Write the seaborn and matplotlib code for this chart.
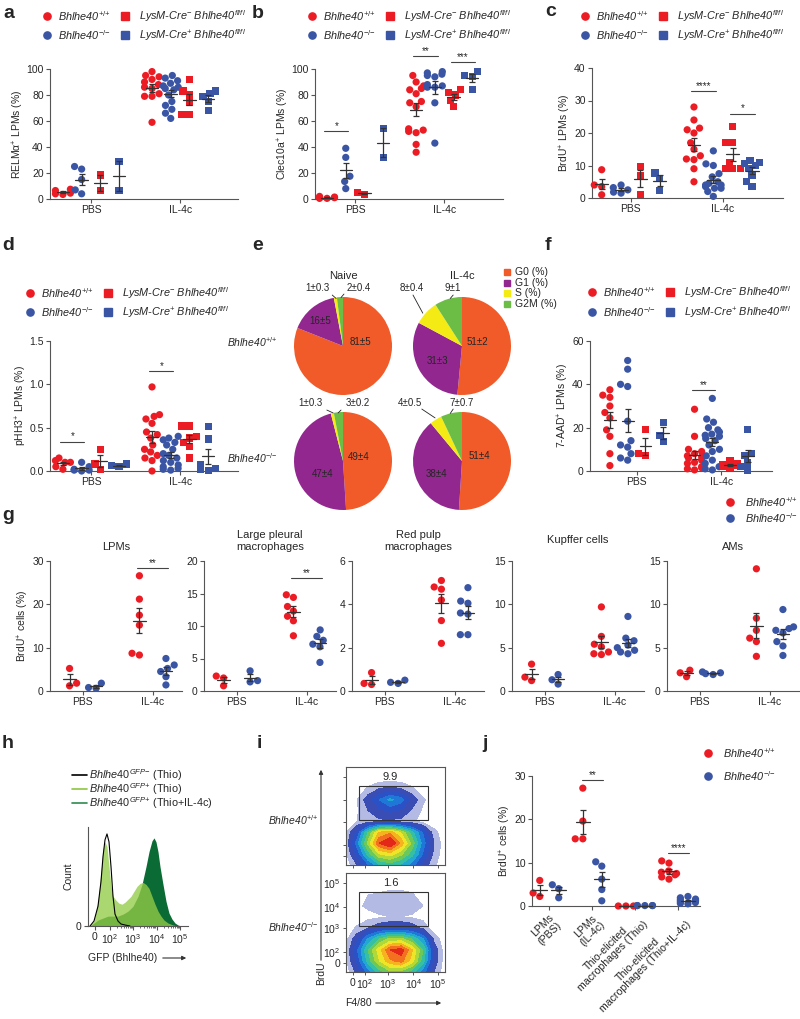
import warnings
import numpy as np
import pandas as pd
import matplotlib
matplotlib.use("Agg")
import matplotlib.pyplot as plt
from matplotlib.lines import Line2D
from matplotlib.patches import Rectangle, FancyArrowPatch
import seaborn as sns

warnings.filterwarnings("ignore")

sns.set_style("ticks")
plt.rcParams["font.family"] = ["Liberation Sans", "DejaVu Sans"]
plt.rcParams["mathtext.fontset"] = "custom"
plt.rcParams["mathtext.rm"] = "Liberation Sans"
plt.rcParams["mathtext.it"] = "Liberation Sans:italic"
plt.rcParams["mathtext.bf"] = "Liberation Sans:bold"
plt.rcParams["mathtext.sf"] = "Liberation Sans"
plt.rcParams["mathtext.default"] = "it"

RED = "#ec1c24"
BLUE = "#3a55a4"
EB = "#333333"
AX = "#555555"

# ---------------- data ----------------
groups = ["PBS", "IL-4c"]
lab_wt = "Bhlhe40$^{{+}/{+}}$"
lab_ko = "Bhlhe40$^{{-}/{-}}$"
lab_cneg = "LysM-Cre$^{-}$ Bhlhe40$^{fl/fl}$"
lab_cpos = "LysM-Cre$^{+}$ Bhlhe40$^{fl/fl}$"

# a: RELMa+ LPMs (%)
a_wt = [[6.5, 3.5, 4.5, 7.5, 4], [98, 95, 94, 92, 90, 88, 86, 85, 81, 79, 79, 59]]
a_ko = [[23, 25, 15, 7, 4], [95, 93, 91, 89, 87, 86, 85, 84, 80, 75, 72, 69, 66, 62]]
a_cneg = [[18.5, 6.5], [92, 83, 80, 74, 65, 65]]
a_cpos = [[29, 6.5], [83, 81, 79, 75, 68]]
# b: Clec10a+ LPMs (%)
b_wt = [[1, 0.5, 2, 1.5, 0.5, 1], [95, 90, 87, 85, 84, 81, 75, 74, 71, 54, 53, 52, 51, 42, 36]]
b_ko = [[39, 32, 17.5, 13.5, 8], [98, 97, 96, 95, 94, 88, 87, 86, 86, 74, 43]]
b_cneg = [[3.5, 5], [84, 82, 80, 76, 71]]
b_cpos = [[54.5, 32], [98, 95, 94, 84]]
# c: BrdU+ LPMs (%)
c_wt = [[8.7, 4, 3.5, 1], [28, 24, 21.5, 21, 20, 17, 15, 13, 12, 11.8, 9, 5]]
c_ko = [[4, 3.2, 2.5, 1.8, 1.5], [14.5, 10.5, 10, 7.5, 6.5, 5, 4.5, 4, 3.5, 3, 2, 0.5, 4, 3]]
c_cneg = [[9.7, 7, 1], [22, 17, 17, 11, 9, 9, 9]]
c_cpos = [[7.7, 6, 2.3], [11.5, 11, 10.5, 10, 9, 7, 5, 3.5]]
# d: pHH3+ LPMs (%)
d_wt = [[0.15, 0.12, 0.1, 0.1, 0.05, 0.02],
        [0.97, 0.65, 0.63, 0.6, 0.55, 0.45, 0.42, 0.38, 0.3, 0.25, 0.22, 0.18, 0.15, 0.12, 0.0]]
d_ko = [[0.1, 0.05, 0.02, 0.01, 0.01, 0.0],
        [0.4, 0.38, 0.36, 0.33, 0.3, 0.25, 0.2, 0.18, 0.15, 0.12, 0.1, 0.07, 0.05, 0.03, 0.02, 0.01]]
d_cneg = [[0.25, 0.08, 0.02], [0.52, 0.52, 0.4, 0.38, 0.33, 0.28, 0.15]]
d_cpos = [[0.08, 0.06, 0.05], [0.51, 0.37, 0.07, 0.03, 0.02, 0.01]]
# f: 7-AAD+ LPMs (%)
f_wt = [[37.5, 35, 34, 30, 27, 24.5, 19, 16, 8, 2.5],
        [28.5, 16, 10, 9, 8, 7, 6.5, 6, 5, 4, 3.5, 2, 1.5, 1, 0.5]]
f_ko = [[51, 47, 40, 39, 23, 14, 12, 11, 8, 6, 5],
        [33.5, 24, 22.5, 20, 19, 18, 17, 16.5, 16, 15, 14, 12, 10, 9, 7, 5, 3.5, 2, 1, 0.5]]
f_cneg = [[19, 8, 7], [5, 3.5, 3, 2.5, 2, 1.5]]
f_cpos = [[22.5, 16.5, 13.5], [19, 8, 7, 4, 2, 0.5]]

# e: cell cycle pies
phases = ["G0 (%)", "G1 (%)", "S (%)", "G2M (%)"]
phase_colors = ["#f15a29", "#92278f", "#f4eb14", "#6cbd45"]
pie_naive_wt = [81, 16, 1, 2]
pie_il4c_wt = [51, 31, 8, 9]
pie_naive_ko = [49, 47, 1, 3]
pie_il4c_ko = [51, 38, 4, 7]
lab_naive_wt = ["81±5", "16±5", "1±0.3", "2±0.4"]
lab_il4c_wt = ["51±2", "31±3", "8±0.4", "9±1"]
lab_naive_ko = ["49±4", "47±4", "1±0.3", "3±0.2"]
lab_il4c_ko = ["51±4", "38±4", "4±0.5", "7±0.7"]

# g: BrdU+ cells (%) per tissue
g_titles = ["LPMs", "Large pleural\nmacrophages", "Red pulp\nmacrophages", "Kupffer cells", "AMs"]
g_wt = [
    [[5.2, 1.8, 1.2], [26.6, 21.2, 17.5, 15.2, 8.7, 8.3]],
    [[2.3, 2.0, 0.8], [14.8, 14.4, 13.0, 12.3, 11.5, 10.8, 8.5]],
    [[0.85, 0.3, 0.35], [5.1, 4.8, 4.7, 4.2, 3.25, 2.2]],
    [[3.1, 1.6, 1.2], [9.7, 6.3, 5.4, 5.1, 4.5, 4.3, 4.2]],
    [[2.4, 2.1, 1.65], [14.1, 8.4, 7.0, 6.1, 5.7, 4.0]],
]
g_ko = [
    [[1.8, 0.8, 0.6], [7.5, 6.0, 5.2, 4.5, 3.3, 1.4]],
    [[3.1, 1.6, 1.4], [9.4, 8.4, 7.8, 7.2, 6.8, 4.4]],
    [[0.5, 0.4, 0.35], [4.77, 4.15, 4.05, 3.6, 3.55, 2.6, 2.6]],
    [[1.9, 1.3, 0.8], [8.6, 6.1, 5.8, 5.3, 5.0, 4.7, 4.5, 4.3]],
    [[2.2, 2.1, 1.9, 2.0], [9.4, 7.4, 7.2, 6.7, 5.7, 5.2, 4.1, 7.0]],
]
g_ymax = [30, 20, 6, 15, 15]
g_yticks = [[0, 10, 20, 30], [0, 5, 10, 15, 20], [0, 2, 4, 6], [0, 5, 10, 15], [0, 5, 10, 15]]

# h: GFP histograms (display channel 0-100, normalised count)
h_neg_x = [2, 6, 10, 13, 15, 17, 19, 21, 23, 25, 27, 30, 33, 37, 42]
h_neg_y = [0, 0.05, 0.2, 0.45, 0.7, 0.87, 0.93, 0.85, 0.6, 0.3, 0.12, 0.05, 0.02, 0.01, 0]
h_thio_x = [2, 6, 10, 13, 15, 17, 19, 21, 23, 25, 28, 31, 34, 37, 40, 43, 46, 49, 52, 55,
            58, 61, 64, 67, 70, 73, 76, 80, 85, 90]
h_thio_y = [0, 0.05, 0.25, 0.55, 0.78, 0.85, 0.8, 0.6, 0.4, 0.3, 0.26, 0.23, 0.22, 0.24, 0.27,
            0.3, 0.35, 0.4, 0.43, 0.44, 0.42, 0.38, 0.3, 0.22, 0.15, 0.1, 0.06, 0.03, 0.01, 0]
h_il4_x = [2, 6, 10, 15, 20, 25, 30, 35, 40, 45, 50, 54, 58, 61, 64, 66, 68, 70, 72, 75,
           78, 81, 84, 87, 90, 93]
h_il4_y = [0, 0.03, 0.06, 0.08, 0.1, 0.1, 0.1, 0.12, 0.15, 0.2, 0.3, 0.42, 0.6, 0.75, 0.86,
           0.89, 0.85, 0.75, 0.6, 0.42, 0.25, 0.13, 0.07, 0.03, 0.01, 0]

# i: BrdU vs F4/80 density (10x10 grid, bottom row first)
i_wt = [
    [0, 0.1, 0.25, 0.4, 0.45, 0.4, 0.3, 0.15, 0.05, 0],
    [0.03, 0.2, 0.45, 0.65, 0.7, 0.6, 0.45, 0.25, 0.08, 0],
    [0.05, 0.3, 0.6, 0.9, 1.0, 0.8, 0.55, 0.3, 0.1, 0],
    [0.03, 0.2, 0.5, 0.75, 0.8, 0.65, 0.45, 0.25, 0.06, 0],
    [0, 0.04, 0.07, 0.08, 0.08, 0.07, 0.05, 0.02, 0, 0],
    [0, 0.03, 0.1, 0.16, 0.2, 0.17, 0.09, 0.03, 0, 0],
    [0, 0.04, 0.14, 0.26, 0.36, 0.3, 0.15, 0.05, 0, 0],
    [0, 0, 0.05, 0.1, 0.12, 0.1, 0.05, 0, 0, 0],
    [0, 0, 0, 0, 0, 0, 0, 0, 0, 0],
    [0, 0, 0, 0, 0, 0, 0, 0, 0, 0],
]
i_ko = [
    [0, 0.12, 0.3, 0.45, 0.55, 0.55, 0.45, 0.3, 0.1, 0],
    [0.03, 0.2, 0.45, 0.65, 0.8, 0.85, 0.7, 0.45, 0.15, 0],
    [0.03, 0.25, 0.5, 0.7, 0.9, 0.95, 0.75, 0.5, 0.15, 0],
    [0.02, 0.15, 0.35, 0.5, 0.6, 0.6, 0.5, 0.35, 0.08, 0],
    [0, 0.05, 0.1, 0.15, 0.18, 0.18, 0.15, 0.08, 0, 0],
    [0, 0, 0.02, 0.03, 0.04, 0.04, 0.03, 0.02, 0, 0],
    [0, 0.03, 0.05, 0.07, 0.08, 0.08, 0.07, 0.04, 0, 0],
    [0, 0, 0.04, 0.05, 0.07, 0.07, 0.05, 0, 0, 0],
    [0, 0, 0, 0, 0, 0, 0, 0, 0, 0],
    [0, 0, 0, 0, 0, 0, 0, 0, 0, 0],
]
i_gate_pct = ["9.9", "1.6"]

# j: BrdU+ cells (%)
j_groups = ["LPMs\n(PBS)", "LPMs\n(IL-4c)", "Thio-elicited\nmacrophages (Thio)",
            "Thio-elicited\nmacrophages (Thio+IL-4c)"]
j_wt = [[5.9, 3.0, 2.2], [27.2, 19.6, 15.5, 15.5], [0, 0, 0],
        [10.4, 9.9, 8.1, 7.8, 7.5, 7.2, 6.7, 6.2]]
j_ko = [[4.9, 4.0, 1.9], [10.2, 9.2, 6.2, 3.8, 1.2], [0.1, 0.1, 0.1, 0.1, 0.1],
        [2.2, 1.9, 1.6, 1.4, 1.2, 1.0, 0.8, 0.6, 0.5]]

# ---------------- figure ----------------
W, H = 800, 1019
fig = plt.figure(figsize=(W / 100, H / 100), dpi=100)


def box(x0, y0, x1, y1):
    return fig.add_axes([x0 / W, 1 - y1 / H, (x1 - x0) / W, (y1 - y0) / H])


def ftext(x, y, s, **kw):
    return fig.text(x / W, 1 - y / H, s, **kw)


def fmark(x, y, marker, color, size=5.2):
    fig.add_artist(Line2D([x / W], [1 - y / H], marker=marker, color=color, markersize=size,
                          linestyle="none", transform=fig.transFigure))


def farrow(x0, y0, x1, y1):
    fig.add_artist(FancyArrowPatch((x0 / W, 1 - y0 / H), (x1 / W, 1 - y1 / H),
                                   transform=fig.transFigure, arrowstyle="-|>",
                                   mutation_scale=6, lw=0.8, color="#333333"))


def dot_panel(ax, series, names, offsets, markers, colors, hw, size=5.2):
    rows = []
    for k, vals in enumerate(series):
        for gi, gv in enumerate(vals):
            for v in gv:
                rows.append({"x": gi + offsets[k], "v": v, "g": names[k], "m": markers[k]})
    df = pd.DataFrame(rows)
    pal = dict(zip(names, colors))
    for m in dict.fromkeys(markers):
        sub = df[df.m == m]
        sns.swarmplot(data=sub, x="x", y="v", hue="g", palette=pal, native_scale=True,
                      orient="x", marker=m, size=size, linewidth=0, legend=False, ax=ax,
                      clip_on=False, zorder=3)
    for k, vals in enumerate(series):
        for gi, gv in enumerate(vals):
            arr = np.asarray(gv, float)
            mu = arr.mean()
            se = arr.std(ddof=1) / np.sqrt(len(arr)) if len(arr) > 1 else 0
            x = gi + offsets[k]
            ax.plot([x - hw, x + hw], [mu, mu], color=EB, lw=0.9, zorder=6, clip_on=False)
            ax.errorbar(x, mu, yerr=se, fmt="none", ecolor=EB, elinewidth=0.9, capsize=2.0,
                        capthick=0.9, zorder=6, clip_on=False)


def style(ax, xlim, ylim, yticks, ylabel="", xticks=(0, 1), xlabels=groups, fmt="{:g}",
          xsize=7.5):
    ax.set_xlim(xlim)
    ax.set_ylim(ylim)
    ax.set_yticks(yticks)
    ax.set_yticklabels([fmt.format(t) for t in yticks])
    ax.set_xticks(list(xticks))
    ax.set_xticklabels(xlabels, fontsize=xsize)
    sns.despine(ax=ax)
    for s in ["left", "bottom"]:
        ax.spines[s].set_color(AX)
        ax.spines[s].set_linewidth(0.8)
    ax.tick_params(length=3, width=0.8, color=AX, pad=1.5)
    ax.tick_params(axis="y", labelsize=7.5)
    ax.set_xlabel("")
    ax.set_ylabel(ylabel, fontsize=7.5, labelpad=0.5)


def sig(ax, x0, x1, y, stars):
    ax.plot([x0 - 0.03, x1 + 0.03], [y, y], color="#444444", lw=0.8, clip_on=False)
    ax.text((x0 + x1) / 2, y, stars, ha="center", va="bottom", fontsize=7, clip_on=False)


def legend4(xc, xs, y1, y2):
    fmark(xc, y1, "o", RED)
    fmark(xc, y2, "o", BLUE)
    fmark(xs, y1, "s", RED)
    fmark(xs, y2, "s", BLUE)
    ftext(xc + 11, y1, lab_wt, ha="left", va="center", style="italic", fontsize=7.8)
    ftext(xc + 11, y2, lab_ko, ha="left", va="center", style="italic", fontsize=7.8)
    ftext(xs + 14, y1, lab_cneg, ha="left", va="center", style="italic", fontsize=7.8)
    ftext(xs + 14, y2, lab_cpos, ha="left", va="center", style="italic", fontsize=7.8)


off4 = [-0.315, -0.105, 0.105, 0.315]
mk4 = ["o", "o", "s", "s"]
col4 = [RED, BLUE, RED, BLUE]
nm4 = ["wt", "ko", "cneg", "cpos"]

# panel a
ax = box(50, 69, 238, 199)
dot_panel(ax, [a_wt, a_ko, a_cneg, a_cpos], nm4, off4, mk4, col4, hw=0.07)
style(ax, (-0.46, 1.65), (0, 100), [0, 20, 40, 60, 80, 100], "RELMα$^{\\mathrm{+}}$ LPMs (%)")
legend4(47, 125, 16, 35)

# panel b
ax = box(315, 69, 503, 199)
dot_panel(ax, [b_wt, b_ko, b_cneg, b_cpos], nm4, off4, mk4, col4, hw=0.07)
style(ax, (-0.45, 1.66), (0, 100), [0, 20, 40, 60, 80, 100], "Clec10a$^{\\mathrm{+}}$ LPMs (%)")
sig(ax, off4[0], off4[1], 52, "*")
sig(ax, 1 + off4[0], 1 + off4[1], 110, "**")
sig(ax, 1 + off4[2], 1 + off4[3], 105.5, "***")
legend4(312, 390, 16, 35)

# panel c
ax = box(592, 68, 783, 198)
dot_panel(ax, [c_wt, c_ko, c_cneg, c_cpos], nm4, off4, mk4, col4, hw=0.07)
style(ax, (-0.42, 1.65), (0, 40), [0, 10, 20, 30, 40], "BrdU$^{\\mathrm{+}}$ LPMs (%)")
sig(ax, 1 + off4[0], 1 + off4[1], 32.8, "****")
sig(ax, 1 + off4[2], 1 + off4[3], 26, "*")
legend4(585, 663, 16, 35)

# panel d
ax = box(50, 341, 238, 471)
dot_panel(ax, [d_wt, d_ko, d_cneg, d_cpos], nm4, off4, mk4, col4, hw=0.07)
style(ax, (-0.46, 1.65), (0, 1.5), [0, 0.5, 1.0, 1.5], "pHH3$^{\\mathrm{+}}$ LPMs (%)", fmt="{:.1f}")
sig(ax, off4[0], off4[1], 0.34, "*")
sig(ax, 1 + off4[0], 1 + off4[1], 1.15, "*")
legend4(30, 108, 293, 312)

# panel f
ax = box(590, 341, 772, 471)
dot_panel(ax, [f_wt, f_ko, f_cneg, f_cpos], nm4, off4, mk4, col4, hw=0.07)
style(ax, (-0.55, 1.6), (0, 60), [0, 20, 40, 60], "7-AAD$^{\\mathrm{+}}$ LPMs (%)")
sig(ax, 1 + off4[0], 1 + off4[1], 37.4, "**")
legend4(592, 670, 292, 312)

# panel e: pies
pie_specs = [
    (343, 346, pie_naive_wt, lab_naive_wt,
     [(0.35, 0.08), (-0.47, 0.51), (-0.53, 1.18), (0.31, 1.18)],
     [[(-0.22, 1.04), (-0.14, 0.97)], [(0.02, 1.06), (-0.04, 0.99)]]),
    (462, 346, pie_il4c_wt, lab_il4c_wt,
     [(0.31, 0.08), (-0.51, -0.31), (-1.02, 1.18), (-0.2, 1.18)],
     [[(-1.0, 1.04), (-0.8, 0.67)], [(-0.18, 1.04), (-0.24, 0.97)]]),
    (343, 461, pie_naive_ko, lab_naive_ko,
     [(0.33, 0.08), (-0.41, -0.27), (-0.67, 1.18), (0.31, 1.18)],
     [[(-0.33, 1.04), (-0.2, 0.98)], [(-0.04, 1.04), (-0.1, 0.98)]]),
    (462, 461, pie_il4c_ko, lab_il4c_ko,
     [(0.35, 0.1), (-0.53, -0.27), (-1.06, 1.18), (0.0, 1.18)],
     [[(-0.82, 1.06), (-0.55, 0.88)], [(-0.18, 1.06), (-0.24, 0.97)]]),
]
for cx, cy, vals, labs, pos, leaders in pie_specs:
    r = 49
    pax = box(cx - r, cy - r, cx + r, cy + r)
    pax.pie(vals, colors=phase_colors, startangle=90, counterclock=False, radius=1,
            wedgeprops=dict(linewidth=0))
    pax.set_xlim(-1, 1)
    pax.set_ylim(-1, 1)
    for lab, (tx, ty) in zip(labs, pos):
        pax.text(tx, ty, lab, ha="center", va="center", fontsize=7)
    for (p0, p1) in leaders:
        pax.plot([p0[0], p1[0]], [p0[1], p1[1]], color="#222222", lw=0.6, clip_on=False)
ftext(343, 276, "Naive", ha="center", va="center", fontsize=8)
ftext(462, 276, "IL-4c", ha="center", va="center", fontsize=8)
ftext(277, 342, lab_wt, ha="right", va="center", style="italic", fontsize=7.5)
ftext(277, 458, lab_ko, ha="right", va="center", style="italic", fontsize=7.5)
for k, (ph, pc) in enumerate(zip(phases, phase_colors)):
    fmark(507, 272 + k * 10.7, "s", pc, size=4.5)
    ftext(515, 272 + k * 10.7, ph, ha="left", va="center", fontsize=7.5)

# panel g
g_left = [50, 204, 352, 512, 667]
for p in range(5):
    x0 = g_left[p]
    ax = box(x0, 561, x0 + 132, 691)
    dot_panel(ax, [g_wt[p], g_ko[p]], ["wt", "ko"], [-0.19, 0.19], ["o", "o"], [RED, BLUE],
              hw=0.09)
    style(ax, (-0.47, 1.42), (0, g_ymax[p]), g_yticks[p],
          "BrdU$^{\\mathrm{+}}$ cells (%)" if p == 0 else "")
    ty = 1.07 if p != 3 else 1.12
    ax.text(0.5, ty, g_titles[p], transform=ax.transAxes, ha="center", va="bottom",
            fontsize=8, linespacing=1.3)
axg = fig.axes[-5:]
sig(axg[0], 1 - 0.19, 1 + 0.19, 28.3, "**")
sig(axg[1], 1 - 0.19, 1 + 0.19, 17.4, "**")
fmark(730, 502, "o", RED)
fmark(730, 518, "o", BLUE)
ftext(745, 502, lab_wt, ha="left", va="center", style="italic", fontsize=7.8)
ftext(745, 518, lab_ko, ha="left", va="center", style="italic", fontsize=7.8)

# panel h
ax = box(88, 827, 188, 926)
ax.fill_between(h_il4_x, h_il4_y, color="#0b6b35", lw=0)
ax.fill_between(h_thio_x, h_thio_y, color="#94cc48", alpha=0.78, lw=0)
sns.lineplot(x=h_neg_x, y=h_neg_y, color="black", lw=0.8, ax=ax)
ax.set_xlim(0, 100)
ax.set_ylim(0, 1)
ax.set_xticks([7, 22, 45, 69, 92])
ax.set_xticklabels(["0", "$\\mathrm{10^{2}}$", "$\\mathrm{10^{3}}$", "$\\mathrm{10^{4}}$",
                    "$\\mathrm{10^{5}}$"])
minor = []
for d0 in [22, 45, 69]:
    minor += [d0 + 23.5 * np.log10(k) for k in range(2, 10)]
ax.set_xticks(minor, minor=True)
ax.set_yticks([0])
sns.despine(ax=ax)
for s in ["left", "bottom"]:
    ax.spines[s].set_color(AX)
    ax.spines[s].set_linewidth(0.8)
ax.tick_params(length=3, width=0.8, color=AX, labelsize=7.5, pad=1.5)
ax.tick_params(which="minor", length=1.5, width=0.6, color=AX)
ax.set_ylabel("Count", fontsize=7.5, labelpad=2)
ftext(123, 958, "GFP (Bhlhe40)", ha="center", va="center", fontsize=7.5)
farrow(160, 958, 189, 958)
h_legend = [("black", "$Bhlhe40^{GFP{-}}$ (Thio)"),
            ("#8dc63f", "$Bhlhe40^{GFP{+}}$ (Thio)"),
            ("#2f8a4f", "$Bhlhe40^{GFP{+}}$ (Thio+IL-4c)")]
for k, (c, t) in enumerate(h_legend):
    y = 775 + k * 14
    fig.add_artist(Line2D([72 / W, 87 / W], [1 - y / H, 1 - y / H], color=c, lw=1.2,
                          transform=fig.transFigure))
    ftext(89, y, t, ha="left", va="center", fontsize=7.8)

# panel i
flow_levels = [0.04, 0.1, 0.18, 0.26, 0.34, 0.42, 0.5, 0.58, 0.66, 0.74, 0.82, 0.9, 1.05]
flow_colors = ["#b3bbe4", "#3a4db5", "#2a52c6", "#1f78d8", "#22a8d0", "#36bfa0", "#6cc858",
               "#b0d838", "#eee428", "#f5b41f", "#f27020", "#e3281a"]
centers = np.linspace(0.0, 1.0, 10)
for grid, (y0, y1), pct, lab, ly, show in [(i_wt, (767, 865), i_gate_pct[0], lab_wt, 820, False),
                                           (i_ko, (873, 972), i_gate_pct[1], lab_ko, 927, True)]:
    ax = box(346, y0, 445, y1)
    ax.contourf(centers, centers, np.asarray(grid), levels=flow_levels, colors=flow_colors)
    ax.add_patch(Rectangle((0.13, 0.46), 0.70, 0.35, fill=False, ec="#333333", lw=0.8))
    ax.text(0.45, 0.9, pct, ha="center", va="center", fontsize=8)
    ax.set_xlim(0, 1)
    ax.set_ylim(0, 1)
    for s in ax.spines.values():
        s.set_color(AX)
        s.set_linewidth(0.8)
    ax.set_xticks([0.07, 0.19, 0.42, 0.68, 0.93])
    ax.set_yticks([0.09, 0.2, 0.44, 0.66, 0.9])
    ax.tick_params(length=2.5, width=0.7, color=AX, labelsize=7.5, pad=1.5)
    if show:
        dec = ["0", "$\\mathrm{10^{2}}$", "$\\mathrm{10^{3}}$", "$\\mathrm{10^{4}}$",
               "$\\mathrm{10^{5}}$"]
        ax.set_xticklabels(dec)
        ax.set_yticklabels(dec)
    else:
        ax.set_xticklabels([])
        ax.set_yticklabels([])
    ftext(318, ly, lab, ha="right", va="center", style="italic", fontsize=7.5)
farrow(321, 963, 321, 767)
ftext(321, 973, "BrdU", ha="center", va="center", rotation=90, fontsize=7.5)
ftext(358, 1003, "F4/80", ha="center", va="center", fontsize=7.5)
farrow(373, 1003, 444, 1003)

# panel j
ax = box(532, 776, 700, 906)
dot_panel(ax, [j_wt, j_ko], ["wt", "ko"], [-0.22, 0.22], ["o", "o"], [RED, BLUE], hw=0.17)
style(ax, (-0.4, 3.5), (0, 30), [0, 10, 20, 30], "BrdU$^{\\mathrm{+}}$ cells (%)",
      xticks=range(4), xlabels=j_groups, xsize=7.6)
for t in ax.get_xticklabels():
    t.set_rotation(45)
    t.set_ha("right")
    t.set_rotation_mode("anchor")
    t.set_multialignment("center")
    t.set_linespacing(1.05)
sig(ax, 1 - 0.22, 1 + 0.22, 29, "**")
sig(ax, 3 - 0.22, 3 + 0.22, 12.3, "****")
fmark(708, 753, "o", RED)
fmark(708, 776, "o", BLUE)
ftext(723, 753, lab_wt, ha="left", va="center", style="italic", fontsize=7.8)
ftext(723, 776, lab_ko, ha="left", va="center", style="italic", fontsize=7.8)

# panel letters
for letter, x, y in [("a", 3, 13), ("b", 252, 13), ("c", 545, 12), ("d", 2, 245),
                     ("e", 252, 245), ("f", 545, 245), ("g", 2, 515), ("h", 2, 743),
                     ("i", 257, 743), ("j", 482, 743)]:
    ftext(x, y, letter, ha="left", va="center", fontsize=14, fontweight="bold")

fig.savefig("out.png", dpi=100)
